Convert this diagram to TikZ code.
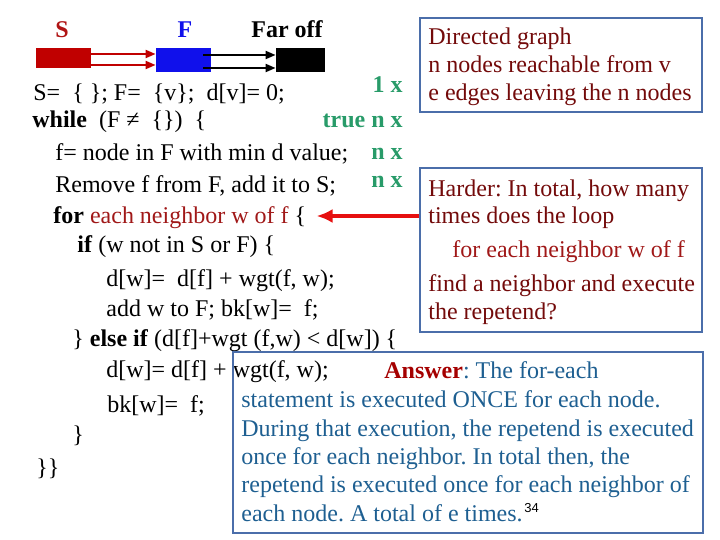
\documentclass[tikz,border=0pt]{standalone}
\usepackage{fontspec}
\setmainfont{Liberation Serif}
\setsansfont{Liberation Sans}
\usepackage{xcolor}
\usetikzlibrary{arrows.meta, positioning, fit}
\frenchspacing

\definecolor{setred}{RGB}{192,0,0}
\definecolor{labred}{RGB}{176,20,20}
\definecolor{setblue}{RGB}{16,16,235}
\definecolor{notered}{RGB}{115,10,10}
\definecolor{loopred}{RGB}{160,24,24}
\definecolor{countgreen}{RGB}{40,155,105}
\definecolor{ansblue}{RGB}{30,95,145}
\definecolor{ansred}{RGB}{165,0,0}
\definecolor{boxblue}{RGB}{75,110,170}
\definecolor{arrowred}{RGB}{230,16,16}

\begin{document}
\begin{tikzpicture}[x=0.5pt, y=-0.5pt,
  txt/.style={anchor=base west, inner sep=0pt, font=\fontsize{12}{14}\selectfont},
  cnt/.style={anchor=base east, inner sep=0pt, text=countgreen, font=\fontsize{12}{14}\selectfont\bfseries},
  hdr/.style={anchor=base, inner sep=0pt, font=\fontsize{12}{14}\selectfont\bfseries},
  setbox/.style={inner sep=0pt},
  notebox/.style={draw=boxblue, line width=0.6pt, inner sep=0pt}]
  \useasboundingbox (0,0) rectangle (720,540);

  % sets S, F and far off
  \node[hdr, text=labred] (slab) at (62,38) {S};
  \node[hdr, text=setblue] (flab) at (185,38) {F};
  \node[hdr] (farlab) at (287,38) {Far off};
  \node[setbox, fill=setred, fit={(36,48) (91,68)}] (sbox) {};
  \node[setbox, fill=setblue, fit={(156,48) (211,72)}] (fbox) {};
  \node[setbox, fill=black, fit={(276,48) (325,72)}] (farbox) {};
  \draw[setred, line width=1pt, -{Triangle[length=5pt,width=4pt]}]
    ([yshift=2pt]sbox.east) -- ([yshift=2pt]sbox.east -| fbox.west);
  \draw[setred, line width=1pt, -{Triangle[length=5pt,width=4pt]}]
    ([yshift=-3.5pt]sbox.east) -- ([yshift=-3.5pt]sbox.east -| fbox.west);
  \draw[black, line width=1pt, -{Triangle[length=5pt,width=4pt]}]
    ([xshift=-4pt,yshift=2.5pt]fbox.east) -- ([yshift=2.5pt]fbox.east -| farbox.west);
  \draw[black, line width=1pt, -{Triangle[length=5pt,width=4pt]}]
    ([xshift=-4pt,yshift=-4pt]fbox.east) -- ([yshift=-4pt]fbox.east -| farbox.west);

  % the algorithm
  \node[txt] (ln1) at (33,101) {S=~ \{ \}; F=~ \{v\};~ d[v]= 0;};
  \node[txt] (ln2) at (32,128) {\textbf{while}~ (F ≠~ \{\})~ \{};
  \node[txt] (ln3) at (55,161) {f= node in F with min d value;};
  \node[txt] (ln4) at (55,193) {Remove f from F, add it to S;};
  \node[txt] (forln) at (53,224) {\textbf{for} \textcolor{loopred}{each neighbor w of f} \{};
  \node[txt] (ln6) at (77,253) {\textbf{if} (w not in S or F) \{};
  \node[txt] (ln7) at (106,287) {d[w]=~ d[f] + wgt(f, w);};
  \node[txt] (ln8) at (106,317) {add w to F; bk[w]=~ f;};
  \node[txt] (ln9) at (72,347) {\} \textbf{else if} (d[f]+wgt (f,w) < d[w]) \{};
  \node[txt] (ln10) at (106,378) {d[w]= d[f] + wgt(f, w);};
  \node[txt] (ln11) at (107,413) {bk[w]=~ f;};
  \node[txt] (ln12) at (72,443) {\}};
  \node[txt] (ln13) at (36,476) {\}\}};

  % counts
  \node[cnt] (cnt1) at (403,93) {1 x};
  \node[cnt] (cnt2) at (403,128) {true n x};
  \node[cnt] (cnt3) at (403,160) {n x};
  \node[cnt] (cnt4) at (403,188) {n x};

  % directed graph note
  \node[notebox, fit={(420,18) (702,112)}] (graphbox) {};
  \node[txt, text=notered] (g1) at (428,45) {Directed graph};
  \node[txt, text=notered] (g2) at (428,73) {n nodes reachable from v};
  \node[txt, text=notered] (g3) at (428,101) {e edges leaving the n nodes};

  % question
  \node[notebox, fit={(420,168) (702,332)}] (qbox) {};
  \node[txt, text=notered] (q1) at (428,197) {Harder: In total, how many};
  \node[txt, text=notered] (q2) at (428,224) {times does the loop};
  \node[txt, text=loopred] (q3) at (452,258) {for each neighbor w of f};
  \node[txt, text=notered] (q4) at (428,292) {find a neighbor and execute};
  \node[txt, text=notered] (q5) at (428,320) {the repetend?};
  \draw[arrowred, line width=1.6pt, -{Latex[length=8pt,width=7pt]}, shorten >=5pt]
    ([yshift=17pt]qbox.west) -- ([yshift=17pt]qbox.west -| forln.east);

  % answer
  \node[notebox, fit={(233,352) (703,533)}] (ansbox) {};
  \node[txt, text=ansblue] (a1) at (384,379) {\textcolor{ansred}{\textbf{Answer}}: The for-each};
  \node[txt, text=ansblue] (a2) at (241,408) {statement is executed ONCE for each node.};
  \node[txt, text=ansblue] (a3) at (241,437) {During that execution, the repetend is executed};
  \node[txt, text=ansblue] (a4) at (241,465) {once for each neighbor. In total then, the};
  \node[txt, text=ansblue] (a5) at (241,493) {repetend is executed once for each neighbor of};
  \node[txt, text=ansblue] (a6) at (241,522) {each node. A total of e times.};
  \node[anchor=base west, inner sep=0pt, font=\sffamily\fontsize{6.5}{8}\selectfont] (pagenum) at (524,513) {34};
\end{tikzpicture}
\end{document}
